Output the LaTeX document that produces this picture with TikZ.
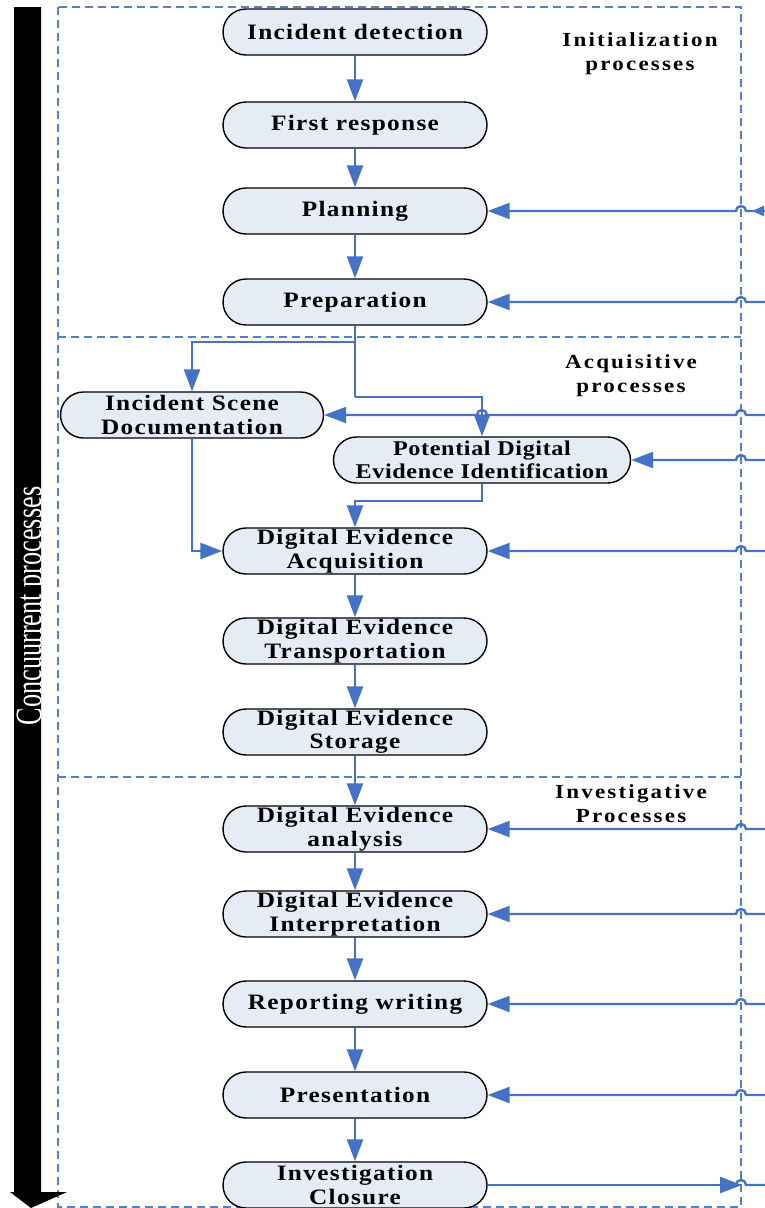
\documentclass[tikz,border=0pt]{standalone}
\usepackage{fontspec}
\usepackage{graphicx}
\setmainfont{Liberation Serif}
\newfontfamily\nodefont[LetterSpace=6,FakeStretch=1.15]{Liberation Serif}
\newfontfamily\pdeifont[LetterSpace=3,FakeStretch=1.15]{Liberation Serif}
\newfontfamily\zonefont[LetterSpace=11,FakeStretch=1.15]{Liberation Serif}
\usetikzlibrary{arrows.meta,shapes.misc}
\definecolor{flowblue}{RGB}{68,114,196}
\definecolor{zoneblue}{RGB}{84,128,200}
\definecolor{procfill}{RGB}{230,236,246}
\tikzset{
  proc/.style={rounded rectangle, draw=black, line width=1.4pt, fill=procfill,
    minimum width=264pt, minimum height=46pt, inner sep=0pt, align=center,
    font=\nodefont\bfseries\fontsize{22}{23.5}\selectfont},
  flow/.style={draw=flowblue, line width=2.4pt, -{Triangle[length=22pt,width=16pt]}},
  smalltip/.style={draw=flowblue, line width=2.4pt, -{Triangle[length=12pt,width=10pt]}},
  plain/.style={draw=flowblue, line width=2.4pt},
  zone/.style={draw=zoneblue, line width=1.4pt, dash pattern=on 8pt off 5pt},
  zonelabel/.style={font=\zonefont\bfseries\fontsize{20}{24}\selectfont, align=center, anchor=north, inner sep=0pt},
}
\begin{document}
\begin{tikzpicture}[x=1pt,y=1pt]
\useasboundingbox (0,0) rectangle (765,-1208);
% zones
\draw[zone] (58,-7) rectangle (741,-1207);
\draw[zone] (58,-337) -- (741,-337);
\draw[zone] (58,-777) -- (741,-777);
% zone labels
\node[zonelabel] (lInit) at (640,-32) {Initialization\\processes};
\node[zonelabel] (lAcq) at (631,-354) {Acquisitive\\processes};
\node[zonelabel] (lInv) at (631,-784) {Investigative\\Processes};
% black arrow
\fill[black] (14,-7) -- (41,-7) -- (41,-1192) -- (67,-1192) -- (31,-1208) -- (10,-1192) -- (14,-1192) -- cycle;
\node[text=white, rotate=90, anchor=base, inner sep=0pt, font=\fontsize{37}{40}\selectfont] (conc) at (41,-606) {\scalebox{0.71}[1]{Concuurrent processes}};
% process nodes
\node[proc] (det) at (355,-32) {Incident detection};
\node[proc] (fr) at (355,-125) {First response};
\node[proc] (plan) at (355,-211) {Planning};
\node[proc] (prep) at (355,-302) {Preparation};
\node[proc, minimum width=263pt] (isd) at (192,-415) {Incident Scene\\Documentation};
\node[proc, minimum width=297pt, font=\pdeifont\bfseries\fontsize{21}{22.5}\selectfont] (pdei) at (482,-460) {Potential Digital\\Evidence Identification};
\node[proc] (acq) at (355,-551) {Digital Evidence\\Acquisition};
\node[proc] (tra) at (355,-641) {Digital Evidence\\Transportation};
\node[proc] (sto) at (355,-732) {Digital Evidence\\Storage};
\node[proc] (ana) at (355,-829) {Digital Evidence\\analysis};
\node[proc] (int) at (355,-914) {Digital Evidence\\Interpretation};
\node[proc] (rep) at (355,-1004) {Reporting writing};
\node[proc] (pre) at (355,-1095) {Presentation};
\node[proc] (clo) at (355,-1185) {Investigation\\Closure};
% vertical chain
\draw[flow] (det.south) -- (fr.north);
\draw[flow] (fr.south) -- (plan.north);
\draw[flow] (plan.south) -- (prep.north);
\draw[flow] (acq.south) -- (tra.north);
\draw[flow] (tra.south) -- (sto.north);
\draw[flow] (sto.south) -- (ana.north);
\draw[flow] (ana.south) -- (int.north);
\draw[flow] (int.south) -- (rep.north);
\draw[flow] (rep.south) -- (pre.north);
\draw[flow] (pre.south) -- (clo.north);
% branching
\coordinate (j0) at (355,-342);
\coordinate (j1) at (355,-397);
\draw[plain] (prep.south) -- (j1);
\draw[flow] (j0) -| (isd.north);
\draw[flow] (j1) -| (pdei.north);
\draw[flow] (isd.south) |- (acq.west);
\draw[flow] (pdei.south) -- ++(0,-17) -| (acq.north);
% incoming from the right
\coordinate (rPlan) at (765,-211);
\coordinate (rPrep) at (765,-302);
\coordinate (rIsd) at (765,-415);
\coordinate (rPdei) at (765,-460);
\coordinate (rAcq) at (765,-551);
\coordinate (rAna) at (765,-829);
\coordinate (rInt) at (765,-914);
\coordinate (rRep) at (765,-1004);
\coordinate (rPre) at (765,-1095);
\coordinate (rClo) at (765,-1185);
\coordinate (tPlan) at (752,-211);
\coordinate (hClo) at (736,-1185);
\draw[flow] (rPlan) -- ++(-19,0) arc[start angle=0,end angle=180,radius=5] -- (plan.east);
\draw[smalltip] (rPlan) -- (tPlan);
\draw[flow] (rPrep) -- ++(-19,0) arc[start angle=0,end angle=180,radius=5] -- (prep.east);
\draw[flow] (rIsd) -- ++(-19,0) arc[start angle=0,end angle=180,radius=5] -- (487,-415) arc[start angle=0,end angle=180,radius=5] -- (isd.east);
\draw[flow] (rPdei) -- ++(-19,0) arc[start angle=0,end angle=180,radius=5] -- (pdei.east);
\draw[flow] (rAcq) -- ++(-19,0) arc[start angle=0,end angle=180,radius=5] -- (acq.east);
\draw[flow] (rAna) -- ++(-19,0) arc[start angle=0,end angle=180,radius=5] -- (ana.east);
\draw[flow] (rInt) -- ++(-19,0) arc[start angle=0,end angle=180,radius=5] -- (int.east);
\draw[flow] (rRep) -- ++(-19,0) arc[start angle=0,end angle=180,radius=5] -- (rep.east);
\draw[flow] (rPre) -- ++(-19,0) arc[start angle=0,end angle=180,radius=5] -- (pre.east);
% outgoing
\draw[flow] (clo.east) -- (742,-1185);
\draw[plain] (hClo) arc[start angle=180,end angle=0,radius=5] -- (rClo);
\end{tikzpicture}
\end{document}
